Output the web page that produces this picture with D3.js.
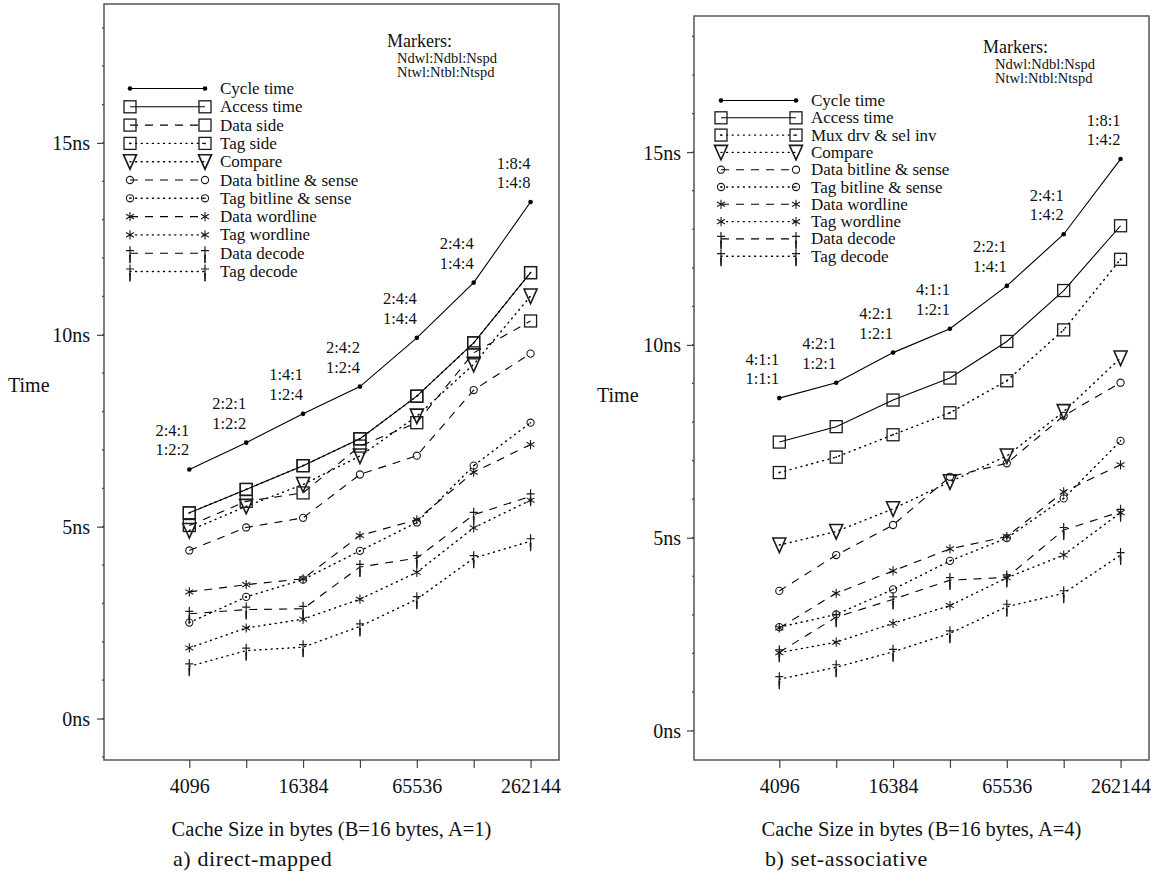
<!DOCTYPE html>
<html>
<head>
<meta charset="utf-8">
<script src="https://cdn.jsdelivr.net/npm/d3@7"></script>
<style>
  html, body { margin: 0; padding: 0; background: #fff; }
  svg { display: block; }
  text { font-family: "Liberation Serif", "Times New Roman", serif; fill: #111; }
</style>
</head>
<body>
<svg id="chart" width="1161" height="886"></svg>
<script>
// Cache sizes in bytes (x axis, log2)
const cacheSizes = [4096, 8192, 16384, 32768, 65536, 131072, 262144];
const sizeTickLabels = [4096, 16384, 65536, 262144];
const timeTicks = [0, 5, 10, 15];

// a) direct-mapped, times in ns
const dmCycle        = [6.49, 7.19, 7.94, 8.65, 9.92, 11.36, 13.46];
const dmAccess       = [5.36, 5.97, 6.59, 7.29, 8.40, 9.79, 11.62];
const dmDataSide     = [5.03, 5.66, 5.88, 7.10, 7.71, 9.53, 10.36];
const dmTagSide      = [5.36, 5.97, 6.59, 7.29, 8.40, 9.79, 11.62];
const dmCompare      = [4.90, 5.53, 6.10, 6.84, 7.88, 9.23, 11.01];
const dmDataBitline  = [4.38, 4.98, 5.23, 6.36, 6.85, 8.56, 9.51];
const dmTagBitline   = [2.50, 3.17, 3.62, 4.37, 5.11, 6.59, 7.71];
const dmDataWordline = [3.30, 3.49, 3.64, 4.77, 5.18, 6.42, 7.14];
const dmTagWordline  = [1.84, 2.36, 2.59, 3.11, 3.81, 4.97, 5.69];
const dmDataDecode   = [2.73, 2.84, 2.86, 3.95, 4.18, 5.31, 5.79];
const dmTagDecode    = [1.36, 1.77, 1.86, 2.40, 3.11, 4.18, 4.62];
const dmDataOrg = ["2:4:1", "2:2:1", "1:4:1", "2:4:2", "2:4:4", "2:4:4", "1:8:4"];
const dmTagOrg  = ["1:2:2", "1:2:2", "1:2:4", "1:2:4", "1:4:4", "1:4:4", "1:4:8"];

// b) set-associative, times in ns
const saCycle        = [8.62, 9.02, 9.80, 10.42, 11.53, 12.87, 14.82];
const saAccess       = [7.48, 7.88, 8.57, 9.14, 10.09, 11.41, 13.09];
const saMuxDriver    = [6.69, 7.09, 7.67, 8.24, 9.07, 10.39, 12.22];
const saCompare      = [4.81, 5.16, 5.75, 6.45, 7.12, 8.27, 9.66];
const saDataBitline  = [3.62, 4.55, 5.33, 6.58, 6.93, 8.16, 9.02];
const saTagBitline   = [2.68, 3.01, 3.66, 4.40, 4.99, 6.02, 7.51];
const saDataWordline = [2.66, 3.56, 4.14, 4.71, 5.03, 6.19, 6.89];
const saTagWordline  = [2.02, 2.29, 2.78, 3.24, 3.96, 4.55, 5.65];
const saDataDecode   = [2.03, 2.94, 3.40, 3.90, 3.97, 5.20, 5.67];
const saTagDecode    = [1.33, 1.64, 2.04, 2.52, 3.21, 3.56, 4.55];
const saDataOrg = ["4:1:1", "4:2:1", "4:2:1", "4:1:1", "2:2:1", "2:4:1", "1:8:1"];
const saTagOrg  = ["1:1:1", "1:2:1", "1:2:1", "1:2:1", "1:4:1", "1:4:2", "1:4:2"];

const markerNote = ["Markers:", "Ndwl:Ndbl:Nspd", "Ntwl:Ntbl:Ntspd"];

const dmSeries = [
  { name: "Cycle time",            values: dmCycle,        line: "solid",  marker: "dot" },
  { name: "Access time",           values: dmAccess,       line: "solid",  marker: "square" },
  { name: "Data side",             values: dmDataSide,     line: "dashed", marker: "square" },
  { name: "Tag side",              values: dmTagSide,      line: "dotted", marker: "squareDot" },
  { name: "Compare",               values: dmCompare,      line: "dotted", marker: "nabla" },
  { name: "Data bitline & sense",  values: dmDataBitline,  line: "dashed", marker: "circle" },
  { name: "Tag bitline & sense",   values: dmTagBitline,   line: "dotted", marker: "circleDot" },
  { name: "Data wordline",         values: dmDataWordline, line: "dashed", marker: "asterisk" },
  { name: "Tag wordline",          values: dmTagWordline,  line: "dotted", marker: "asterisk" },
  { name: "Data decode",           values: dmDataDecode,   line: "dashed", marker: "dagger" },
  { name: "Tag decode",            values: dmTagDecode,    line: "dotted", marker: "dagger" }
];
const saSeries = [
  { name: "Cycle time",            values: saCycle,        line: "solid",  marker: "dot" },
  { name: "Access time",           values: saAccess,       line: "solid",  marker: "square" },
  { name: "Mux drv & sel inv",     values: saMuxDriver,    line: "dotted", marker: "squareDot" },
  { name: "Compare",               values: saCompare,      line: "dotted", marker: "nabla" },
  { name: "Data bitline & sense",  values: saDataBitline,  line: "dashed", marker: "circle" },
  { name: "Tag bitline & sense",   values: saTagBitline,   line: "dotted", marker: "circleDot" },
  { name: "Data wordline",         values: saDataWordline, line: "dashed", marker: "asterisk" },
  { name: "Tag wordline",          values: saTagWordline,  line: "dotted", marker: "asterisk" },
  { name: "Data decode",           values: saDataDecode,   line: "dashed", marker: "dagger" },
  { name: "Tag decode",            values: saTagDecode,    line: "dotted", marker: "dagger" }
];

const panels = [
  {
    series: dmSeries, dataOrg: dmDataOrg, tagOrg: dmTagOrg,
    left: 104, right: 559, top: 4, bottom: 760, yDomain: [-1.08, 18.62],
    xTitle: "Cache Size in bytes (B=16 bytes, A=1)", caption: "a) direct-mapped", captionX: 173,
    timeX: 8, tickLabelX: 90,
    legend: { x1: 130, x2: 205, textX: 220, y0: 88.5, dy: 18.3 },
    note: { x: 387, x2: 397, y: 41 }
  },
  {
    series: saSeries, dataOrg: saDataOrg, tagOrg: saTagOrg,
    left: 694, right: 1149, top: 16, bottom: 760, yDomain: [-0.765, 18.53],
    xTitle: "Cache Size in bytes (B=16 bytes, A=4)", caption: "b) set-associative", captionX: 765,
    timeX: 597, tickLabelX: 681,
    legend: { x1: 721, x2: 796, textX: 811, y0: 100.5, dy: 17.3 },
    note: { x: 983, x2: 995, y: 47 }
  }
];

const svg = d3.select("#chart");

const dashFor = { solid: null, dashed: "8,7", dotted: "1,4.6" };

function drawMarker(g, type, x, y) {
  const m = g.append("g").attr("transform", `translate(${x},${y})`);
  const stroke = "#1a1a1a";
  if (type === "dot") {
    m.append("circle").attr("r", 2.3).attr("fill", "#000");
  } else if (type === "square" || type === "squareDot") {
    m.append("rect").attr("x", -6).attr("y", -6).attr("width", 12).attr("height", 12)
      .attr("fill", "none").attr("stroke", stroke).attr("stroke-width", 1.3);
    if (type === "squareDot") m.append("circle").attr("r", 0.9).attr("fill", "#000");
  } else if (type === "nabla") {
    m.append("path").attr("d", "M-6.5,-7 L6.5,-7 L0,7.5 Z")
      .attr("fill", "none").attr("stroke", stroke).attr("stroke-width", 1.6)
      .attr("stroke-linejoin", "miter");
  } else if (type === "circle" || type === "circleDot") {
    m.append("circle").attr("r", 3.6).attr("fill", "none").attr("stroke", stroke).attr("stroke-width", 1.1);
    if (type === "circleDot") m.append("circle").attr("r", 0.8).attr("fill", "#000");
  } else if (type === "asterisk") {
    const r = 4.6;
    const a = Math.PI / 6;
    m.append("path")
      .attr("d", `M0,${-r} L0,${r} M${-r*Math.cos(a)},${-r*Math.sin(a)} L${r*Math.cos(a)},${r*Math.sin(a)} M${-r*Math.cos(a)},${r*Math.sin(a)} L${r*Math.cos(a)},${-r*Math.sin(a)}`)
      .attr("stroke", stroke).attr("stroke-width", 1.1).attr("fill", "none");
  } else if (type === "dagger") {
    m.append("path").attr("d", "M0,-7 L0,10 M-4,-2.5 L4,-2.5")
      .attr("stroke", stroke).attr("stroke-width", 1.2).attr("fill", "none");
    m.append("path").attr("d", "M-1,1.5 L1,1.5 L0.5,9.5 L-0.5,9.5 Z").attr("fill", stroke);
  }
}

panels.forEach(p => {
  const x = d3.scaleLog().base(2)
    .domain([Math.pow(2, 10.5), Math.pow(2, 18.5)])
    .range([p.left, p.right]);
  const y = d3.scaleLinear().domain(p.yDomain).range([p.bottom, p.top]);
  const g = svg.append("g");

  // frame
  g.append("rect")
    .attr("x", p.left).attr("y", p.top)
    .attr("width", p.right - p.left).attr("height", p.bottom - p.top)
    .attr("fill", "none").attr("stroke", "#555").attr("stroke-width", 1.5);

  // x axis
  const xAxis = d3.axisBottom(x).tickValues(cacheSizes).tickSizeInner(8).tickSizeOuter(0)
    .tickFormat(d => sizeTickLabels.includes(d) ? String(d) : "");
  const xg = g.append("g").attr("transform", `translate(0,${p.bottom})`).call(xAxis);
  xg.select(".domain").remove();
  xg.selectAll(".tick line").attr("stroke", "#444").attr("stroke-width", 1.2);
  xg.selectAll(".tick text").attr("font-size", 20).attr("dy", null).attr("y", 26)
    .attr("dominant-baseline", "central").attr("fill", "#111")
    .style("font-family", '"Liberation Serif", "Times New Roman", serif');

  // y axis: major ticks with labels, minor ticks every ns
  const minor = d3.range(Math.ceil(p.yDomain[0]), Math.floor(p.yDomain[1]) + 1);
  g.append("g").selectAll("line").data(minor).join("line")
    .attr("x1", p.left - 2).attr("x2", p.left)
    .attr("y1", d => y(d)).attr("y2", d => y(d))
    .attr("stroke", "#444").attr("stroke-width", 1.2);
  const yAxis = d3.axisLeft(y).tickValues(timeTicks).tickSizeInner(7).tickSizeOuter(0)
    .tickFormat(d => d + "ns");
  const yg = g.append("g").attr("transform", `translate(${p.left},0)`).call(yAxis);
  yg.select(".domain").remove();
  yg.selectAll(".tick line").attr("stroke", "#444").attr("stroke-width", 1.2);
  yg.selectAll(".tick text").attr("font-size", 20).attr("dy", null).attr("x", p.tickLabelX - p.left)
    .attr("dominant-baseline", "central").attr("fill", "#111")
    .style("font-family", '"Liberation Serif", "Times New Roman", serif');

  // axis titles and caption
  g.append("text").attr("x", p.timeX).attr("y", y(8.7)).attr("dominant-baseline", "central")
    .attr("font-size", 20).text("Time");
  g.append("text").attr("x", (p.left + p.right) / 2).attr("y", 829).attr("text-anchor", "middle")
    .attr("dominant-baseline", "central").attr("font-size", 20.5).text(p.xTitle);
  g.append("text").attr("x", p.captionX).attr("y", 858).attr("dominant-baseline", "central")
    .attr("font-size", 22).attr("letter-spacing", 0.6).text(p.caption);

  // series lines
  const line = d3.line().x((d, i) => x(cacheSizes[i])).y(d => y(d));
  p.series.forEach(s => {
    g.append("path").datum(s.values).attr("d", line)
      .attr("fill", "none").attr("stroke", "#000")
      .attr("stroke-width", s.line === "dotted" ? 1.4 : 1.1)
      .attr("stroke-linecap", s.line === "dotted" ? "round" : "butt")
      .attr("stroke-dasharray", dashFor[s.line]);
  });
  // series markers
  p.series.forEach(s => {
    s.values.forEach((v, i) => drawMarker(g, s.marker, x(cacheSizes[i]), y(v)));
  });

  // organisation labels above the cycle-time points
  const cyc = p.series[0].values;
  cyc.forEach((v, i) => {
    const px = x(cacheSizes[i]);
    const py = y(v);
    g.append("text").attr("x", px).attr("y", py - 39).attr("text-anchor", "end")
      .attr("dominant-baseline", "central").attr("font-size", 16.5).text(p.dataOrg[i]);
    g.append("text").attr("x", px).attr("y", py - 19.5).attr("text-anchor", "end")
      .attr("dominant-baseline", "central").attr("font-size", 16.5).text(p.tagOrg[i]);
  });

  // marker note
  g.append("text").attr("x", p.note.x).attr("y", p.note.y).attr("dominant-baseline", "central")
    .attr("font-size", 18).text(markerNote[0]);
  g.append("text").attr("x", p.note.x2).attr("y", p.note.y + 17).attr("dominant-baseline", "central")
    .attr("font-size", 14.5).text(markerNote[1]);
  g.append("text").attr("x", p.note.x2).attr("y", p.note.y + 31).attr("dominant-baseline", "central")
    .attr("font-size", 14.5).text(markerNote[2]);

  // legend
  const L = p.legend;
  p.series.forEach((s, k) => {
    const ly = L.y0 + k * L.dy;
    g.append("line").attr("x1", L.x1).attr("x2", L.x2).attr("y1", ly).attr("y2", ly)
      .attr("stroke", "#000")
      .attr("stroke-width", s.line === "dotted" ? 1.4 : 1.1)
      .attr("stroke-linecap", s.line === "dotted" ? "round" : "butt")
      .attr("stroke-dasharray", dashFor[s.line]);
    drawMarker(g, s.marker, L.x1, ly);
    drawMarker(g, s.marker, L.x2, ly);
    g.append("text").attr("x", L.textX).attr("y", ly).attr("dominant-baseline", "central")
      .attr("font-size", 17).text(s.name);
  });
});
</script>
</body>
</html>
